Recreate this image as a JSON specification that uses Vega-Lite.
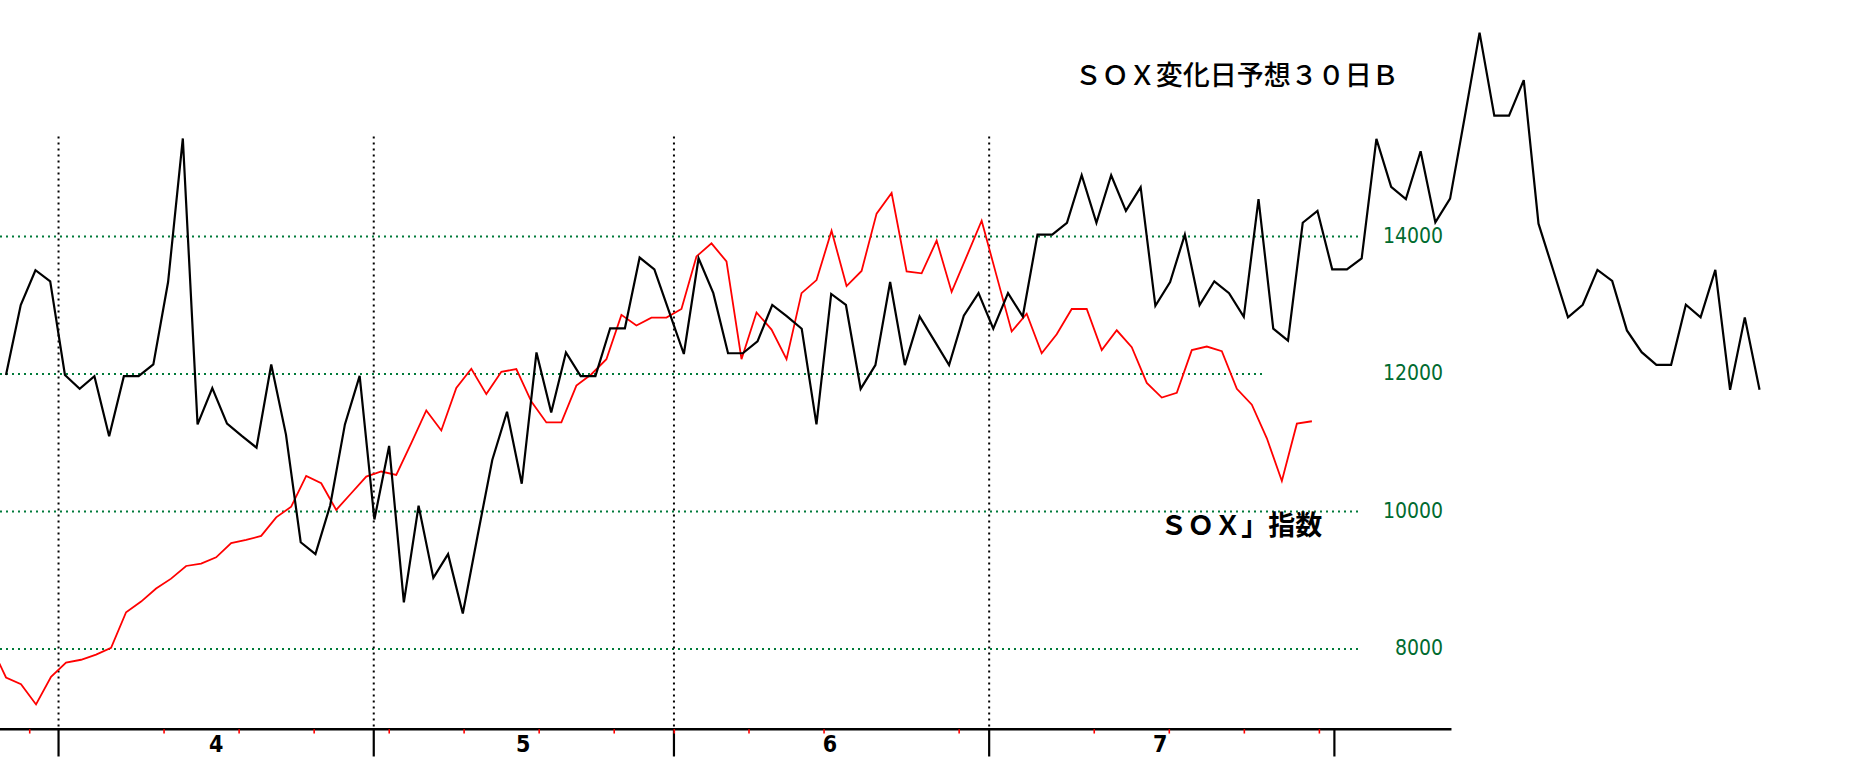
{
  "$schema": "https://vega.github.io/schema/vega-lite/v6.json",
  "width": 1859,
  "height": 771,
  "autosize": {"type": "none"},
  "padding": 0,
  "background": "white",
  "datasets": {
    "forecast": [
      {"i": 0, "v": 11987}, {"i": 1, "v": 13005}, {"i": 2, "v": 13511}, {"i": 3, "v": 13350},
      {"i": 4, "v": 11987}, {"i": 5, "v": 11785}, {"i": 6, "v": 11970}, {"i": 7, "v": 11095},
      {"i": 8, "v": 11970}, {"i": 9, "v": 11970}, {"i": 10, "v": 12142}, {"i": 11, "v": 13339},
      {"i": 12, "v": 15427}, {"i": 13, "v": 11268}, {"i": 14, "v": 11797}, {"i": 15, "v": 11279},
      {"i": 16, "v": 11100}, {"i": 17, "v": 10930}, {"i": 18, "v": 12140}, {"i": 19, "v": 11120},
      {"i": 20, "v": 9554}, {"i": 21, "v": 9381}, {"i": 22, "v": 10089}, {"i": 23, "v": 11268},
      {"i": 24, "v": 11975}, {"i": 25, "v": 9885}, {"i": 26, "v": 10955}, {"i": 27, "v": 8679},
      {"i": 28, "v": 10085}, {"i": 29, "v": 9036}, {"i": 30, "v": 9381}, {"i": 31, "v": 8518},
      {"i": 32, "v": 9646}, {"i": 33, "v": 10750}, {"i": 34, "v": 11452}, {"i": 35, "v": 10405},
      {"i": 36, "v": 12315}, {"i": 37, "v": 11440}, {"i": 38, "v": 12315}, {"i": 39, "v": 11970},
      {"i": 40, "v": 11970}, {"i": 41, "v": 12666}, {"i": 42, "v": 12666}, {"i": 43, "v": 13695},
      {"i": 44, "v": 13523}, {"i": 45, "v": 12907}, {"i": 46, "v": 12292}, {"i": 47, "v": 13684},
      {"i": 48, "v": 13177}, {"i": 49, "v": 12303}, {"i": 50, "v": 12303}, {"i": 51, "v": 12476},
      {"i": 52, "v": 13005}, {"i": 53, "v": 12838}, {"i": 54, "v": 12660}, {"i": 55, "v": 11268},
      {"i": 56, "v": 13166}, {"i": 57, "v": 13005}, {"i": 58, "v": 11785}, {"i": 59, "v": 12131},
      {"i": 60, "v": 13339}, {"i": 61, "v": 12131}, {"i": 62, "v": 12838}, {"i": 63, "v": 12487},
      {"i": 64, "v": 12131}, {"i": 65, "v": 12850}, {"i": 66, "v": 13177}, {"i": 67, "v": 12660},
      {"i": 68, "v": 13177}, {"i": 69, "v": 12838}, {"i": 70, "v": 14029}, {"i": 71, "v": 14029},
      {"i": 72, "v": 14201}, {"i": 73, "v": 14892}, {"i": 74, "v": 14201}, {"i": 75, "v": 14892},
      {"i": 76, "v": 14374}, {"i": 77, "v": 14719}, {"i": 78, "v": 12993}, {"i": 79, "v": 13339},
      {"i": 80, "v": 14029}, {"i": 81, "v": 13005}, {"i": 82, "v": 13350}, {"i": 83, "v": 13177},
      {"i": 84, "v": 12832}, {"i": 85, "v": 14546}, {"i": 86, "v": 12660}, {"i": 87, "v": 12487},
      {"i": 88, "v": 14201}, {"i": 89, "v": 14374}, {"i": 90, "v": 13523}, {"i": 91, "v": 13523},
      {"i": 92, "v": 13684}, {"i": 93, "v": 15421}, {"i": 94, "v": 14723}, {"i": 95, "v": 14545},
      {"i": 96, "v": 15241}, {"i": 97, "v": 14206}, {"i": 98, "v": 14551}, {"i": 99, "v": 15747},
      {"i": 100, "v": 16966}, {"i": 101, "v": 15759}, {"i": 102, "v": 15759}, {"i": 103, "v": 16276},
      {"i": 104, "v": 14188}, {"i": 105, "v": 13510}, {"i": 106, "v": 12825}, {"i": 107, "v": 13009},
      {"i": 108, "v": 13515}, {"i": 109, "v": 13354}, {"i": 110, "v": 12635}, {"i": 111, "v": 12319},
      {"i": 112, "v": 12135}, {"i": 113, "v": 12135}, {"i": 114, "v": 13009}, {"i": 115, "v": 12825},
      {"i": 116, "v": 13515}, {"i": 117, "v": 11772}, {"i": 118, "v": 12825}, {"i": 119, "v": 11772}
    ],
    "sox": [
      {"j": -1, "v": 8050}, {"j": 0, "v": 7587}, {"j": 1, "v": 7489}, {"j": 2, "v": 7195},
      {"j": 3, "v": 7598}, {"j": 4, "v": 7805}, {"j": 5, "v": 7845}, {"j": 6, "v": 7920},
      {"j": 7, "v": 8018}, {"j": 8, "v": 8536}, {"j": 9, "v": 8691}, {"j": 10, "v": 8881},
      {"j": 11, "v": 9025}, {"j": 12, "v": 9209}, {"j": 13, "v": 9243}, {"j": 14, "v": 9335},
      {"j": 15, "v": 9542}, {"j": 16, "v": 9588}, {"j": 17, "v": 9646}, {"j": 18, "v": 9916},
      {"j": 19, "v": 10071}, {"j": 20, "v": 10520}, {"j": 21, "v": 10413}, {"j": 22, "v": 10024},
      {"j": 23, "v": 10267}, {"j": 24, "v": 10510}, {"j": 25, "v": 10583}, {"j": 26, "v": 10534},
      {"j": 27, "v": 10995}, {"j": 28, "v": 11471}, {"j": 29, "v": 11180}, {"j": 30, "v": 11800},
      {"j": 31, "v": 12078}, {"j": 32, "v": 11709}, {"j": 33, "v": 12033}, {"j": 34, "v": 12073},
      {"j": 35, "v": 11601}, {"j": 36, "v": 11297}, {"j": 37, "v": 11297}, {"j": 38, "v": 11832},
      {"j": 39, "v": 11998}, {"j": 40, "v": 12217}, {"j": 41, "v": 12861}, {"j": 42, "v": 12706},
      {"j": 43, "v": 12821}, {"j": 44, "v": 12821}, {"j": 45, "v": 12947}, {"j": 46, "v": 13712},
      {"j": 47, "v": 13902}, {"j": 48, "v": 13638}, {"j": 49, "v": 12217}, {"j": 50, "v": 12896},
      {"j": 51, "v": 12648}, {"j": 52, "v": 12217}, {"j": 53, "v": 13177}, {"j": 54, "v": 13367},
      {"j": 55, "v": 14086}, {"j": 56, "v": 13281}, {"j": 57, "v": 13500}, {"j": 58, "v": 14334},
      {"j": 59, "v": 14633}, {"j": 60, "v": 13494}, {"j": 61, "v": 13465}, {"j": 62, "v": 13942},
      {"j": 63, "v": 13195}, {"j": 64, "v": 13712}, {"j": 65, "v": 14230}, {"j": 66, "v": 13425},
      {"j": 67, "v": 12620}, {"j": 68, "v": 12878}, {"j": 69, "v": 12303}, {"j": 70, "v": 12579},
      {"j": 71, "v": 12947}, {"j": 72, "v": 12947}, {"j": 73, "v": 12349}, {"j": 74, "v": 12637},
      {"j": 75, "v": 12390}, {"j": 76, "v": 11872}, {"j": 77, "v": 11659}, {"j": 78, "v": 11728},
      {"j": 79, "v": 12349}, {"j": 80, "v": 12401}, {"j": 81, "v": 12332}, {"j": 82, "v": 11785},
      {"j": 83, "v": 11555}, {"j": 84, "v": 11066}, {"j": 85, "v": 10445}, {"j": 86, "v": 11279},
      {"j": 87, "v": 11314}
    ],
    "grid": [
      {"v": 14000, "j0": -0.4, "j1": 90.2},
      {"v": 12000, "j0": -0.4, "j1": 83.8},
      {"v": 10000, "j0": -0.4, "j1": 90.2},
      {"v": 8000, "j0": -0.4, "j1": 90.2}
    ],
    "monthEdges": [
      {"j": 3.5, "line": true}, {"j": 24.5, "line": true}, {"j": 44.5, "line": true},
      {"j": 65.5, "line": true}, {"j": 88.5, "line": false}
    ],
    "months": [
      {"j": 14, "m": "4"}, {"j": 34.45, "m": "5"}, {"j": 54.9, "m": "6"}, {"j": 76.9, "m": "7"}
    ],
    "weeks": [
      {"j": 1.58}, {"j": 10.53}, {"j": 15.53}, {"j": 20.53}, {"j": 25.53}, {"j": 30.52},
      {"j": 35.52}, {"j": 40.52}, {"j": 44.52}, {"j": 49.5}, {"j": 54.5}, {"j": 63.5},
      {"j": 72.5}, {"j": 77.5}, {"j": 82.5}, {"j": 87.5}
    ]
  },
  "resolve": {"scale": {"x": "independent"}},
  "layer": [
    {
      "layer": [
        {
          "data": {"name": "grid"},
          "mark": {"type": "rule", "color": "#007a3a", "strokeWidth": 2, "strokeDash": [2, 4]},
          "encoding": {
            "x": {"field": "j0", "type": "quantitative", "scale": {"domain": [-0.4, 123.45], "nice": false, "zero": false}, "axis": null},
            "x2": {"field": "j1"},
            "y": {"field": "v", "type": "quantitative", "scale": {"domain": [6227, 17441], "nice": false, "zero": false}, "axis": null}
          }
        },
        {
          "data": {"name": "grid"},
          "mark": {"type": "text", "align": "right", "baseline": "middle", "font": "Liberation Sans Narrow, DejaVu Sans Condensed, sans-serif", "fontSize": 21, "color": "#006b30"},
          "encoding": {
            "x": {"datum": 95.74, "type": "quantitative", "scale": {"domain": [-0.4, 123.45], "nice": false, "zero": false}},
            "y": {"field": "v", "type": "quantitative", "scale": {"domain": [6227, 17441], "nice": false, "zero": false}},
            "text": {"field": "v", "type": "quantitative", "format": "d"}
          }
        },
        {
          "data": {"name": "monthEdges"},
          "transform": [{"filter": "datum.line"}],
          "mark": {"type": "rule", "color": "black", "strokeWidth": 2, "strokeDash": [2, 4]},
          "encoding": {
            "x": {"field": "j", "type": "quantitative", "scale": {"domain": [-0.4, 123.45], "nice": false, "zero": false}},
            "y": {"datum": 15455, "type": "quantitative", "scale": {"domain": [6227, 17441], "nice": false, "zero": false}},
            "y2": {"datum": 6835}
          }
        },
        {
          "data": {"values": [{}]},
          "mark": {"type": "rule", "color": "black", "strokeWidth": 2.4},
          "encoding": {
            "x": {"datum": -0.4, "type": "quantitative", "scale": {"domain": [-0.4, 123.45], "nice": false, "zero": false}},
            "x2": {"datum": 96.3},
            "y": {"datum": 6835, "type": "quantitative", "scale": {"domain": [6227, 17441], "nice": false, "zero": false}}
          }
        },
        {
          "data": {"name": "monthEdges"},
          "mark": {"type": "rule", "color": "black", "strokeWidth": 2.2},
          "encoding": {
            "x": {"field": "j", "type": "quantitative", "scale": {"domain": [-0.4, 123.45], "nice": false, "zero": false}},
            "y": {"datum": 6835, "type": "quantitative", "scale": {"domain": [6227, 17441], "nice": false, "zero": false}},
            "y2": {"datum": 6438}
          }
        },
        {
          "data": {"name": "weeks"},
          "mark": {"type": "rule", "color": "#ff0000", "strokeWidth": 1.6},
          "encoding": {
            "x": {"field": "j", "type": "quantitative", "scale": {"domain": [-0.4, 123.45], "nice": false, "zero": false}},
            "y": {"datum": 6835, "type": "quantitative", "scale": {"domain": [6227, 17441], "nice": false, "zero": false}},
            "y2": {"datum": 6772}
          }
        },
        {
          "data": {"name": "months"},
          "mark": {"type": "text", "align": "center", "baseline": "middle", "font": "Liberation Sans Narrow, DejaVu Sans Condensed, sans-serif", "fontSize": 23, "fontWeight": "bold", "color": "black"},
          "encoding": {
            "x": {"field": "j", "type": "quantitative", "scale": {"domain": [-0.4, 123.45], "nice": false, "zero": false}},
            "y": {"datum": 6605, "type": "quantitative", "scale": {"domain": [6227, 17441], "nice": false, "zero": false}},
            "text": {"field": "m"}
          }
        },
        {
          "data": {"name": "sox"},
          "mark": {"type": "line", "color": "#ff0000", "strokeWidth": 1.8, "strokeJoin": "miter", "clip": true},
          "encoding": {
            "x": {"field": "j", "type": "quantitative", "scale": {"domain": [-0.4, 123.45], "nice": false, "zero": false}},
            "y": {"field": "v", "type": "quantitative", "scale": {"domain": [6227, 17441], "nice": false, "zero": false}}
          }
        },
        {
          "data": {"values": [{}]},
          "mark": {"type": "text", "text": "ＳＯＸ変化日予想３０日Ｂ", "align": "left", "baseline": "middle", "font": "Noto Sans CJK JP", "fontSize": 27, "fontWeight": 500, "color": "black"},
          "encoding": {
            "x": {"datum": 71.2, "type": "quantitative", "scale": {"domain": [-0.4, 123.45], "nice": false, "zero": false}},
            "y": {"datum": 16321, "type": "quantitative", "scale": {"domain": [6227, 17441], "nice": false, "zero": false}}
          }
        },
        {
          "data": {"values": [{}]},
          "mark": {"type": "text", "text": "ＳＯＸ」指数", "align": "left", "baseline": "middle", "font": "Noto Sans CJK JP", "fontSize": 27, "fontWeight": "bold", "color": "black"},
          "encoding": {
            "x": {"datum": 76.9, "type": "quantitative", "scale": {"domain": [-0.4, 123.45], "nice": false, "zero": false}},
            "y": {"datum": 9776, "type": "quantitative", "scale": {"domain": [6227, 17441], "nice": false, "zero": false}}
          }
        }
      ]
    },
    {
      "data": {"name": "forecast"},
      "mark": {"type": "line", "color": "black", "strokeWidth": 2.2, "strokeJoin": "miter"},
      "encoding": {
        "x": {"field": "i", "type": "quantitative", "scale": {"domain": [-0.407, 125.75], "nice": false, "zero": false}, "axis": null},
        "y": {"field": "v", "type": "quantitative", "scale": {"domain": [6227, 17441], "nice": false, "zero": false}, "axis": null}
      }
    }
  ],
  "config": {
    "view": {"stroke": null},
    "axis": {"grid": false, "domain": false, "ticks": false, "labels": false, "title": null}
  }
}
